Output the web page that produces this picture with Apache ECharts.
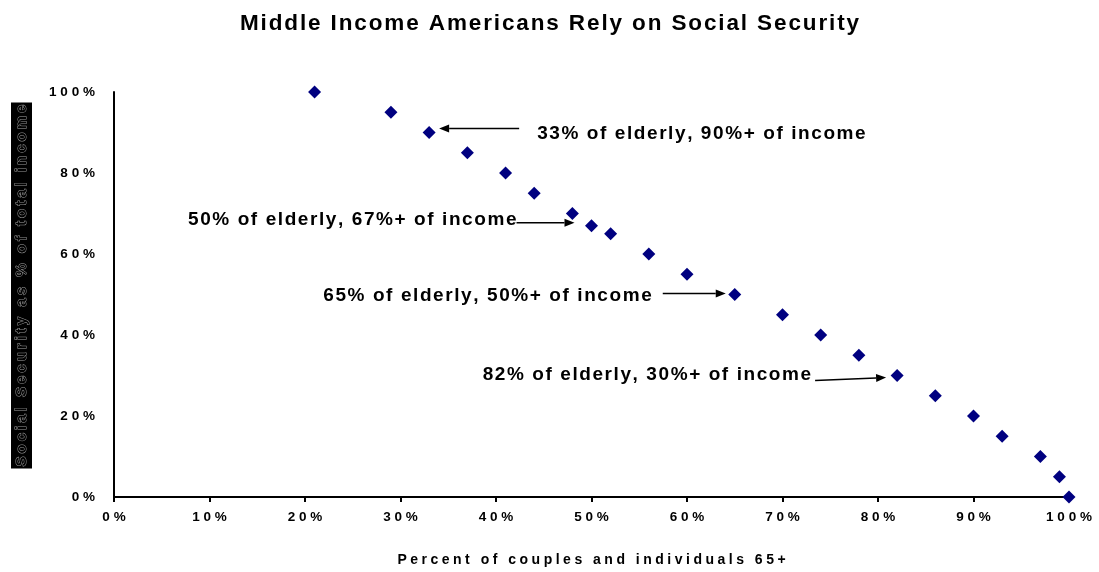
<!DOCTYPE html>
<html>
<head>
<meta charset="utf-8">
<title>Middle Income Americans Rely on Social Security</title>
<script src="https://cdn.jsdelivr.net/npm/echarts@6/dist/echarts.min.js"></script>
<style>
  html, body { margin: 0; padding: 0; background: #fff; }
  #chart { width: 1099px; height: 572px; }
</style>
</head>
<body>
<div id="chart"></div>
<script>
// Share of couples and individuals 65+ (x, %) for whom Social Security
// makes up at least the given share of total income (y, %).
const elderlyShare = [21, 29, 33, 37, 41, 44, 48, 50, 52, 56, 60, 65, 70, 74, 78, 82, 86, 90, 93, 97, 99, 100];
const incomeShare  = [100, 95, 90, 85, 80, 75, 70, 67, 65, 60, 55, 50, 45, 40, 35, 30, 25, 20, 15, 10, 5, 0];

// Callout notes and the points they refer to
const noteText = [
  '33% of elderly, 90%+ of income',
  '50% of elderly, 67%+ of income',
  '65% of elderly, 50%+ of income',
  '82% of elderly, 30%+ of income'
];
const noteX = [33, 50, 65, 82];
const noteY = [90, 67, 50, 30];

const xTicks = [0, 10, 20, 30, 40, 50, 60, 70, 80, 90, 100];
const yTicks = [0, 20, 40, 60, 80, 100];

const FONT = 'Arial, "Liberation Sans", sans-serif';
// tracking helpers: spread characters apart with narrow space characters
const track = (s, sep) => s.split('').join(sep);
const HAIR = '\u200A', THIN = '\u2009', QUARTER = '\u2005';

const chart = echarts.init(document.getElementById('chart'));

chart.setOption({
  backgroundColor: '#ffffff',
  animation: false,
  title: {
    text: track('Middle Income Americans Rely on Social Security', HAIR),
    left: 'center',
    top: 7,
    textStyle: { fontFamily: FONT, fontSize: 22.5, fontWeight: 'bold', color: '#000' }
  },
  grid: { left: 114, right: 30, top: 92, bottom: 72, containLabel: false },
  xAxis: {
    type: 'value',
    min: xTicks[0],
    max: xTicks[xTicks.length - 1],
    interval: 10,
    name: track('Percent of couples and individuals 65+', QUARTER),
    nameLocation: 'middle',
    nameGap: 56,
    nameTextStyle: { fontFamily: FONT, fontSize: 14, fontWeight: 'bold', color: '#000' },
    axisLine: { lineStyle: { color: '#000', width: 2 } },
    axisTick: { show: true, length: 5, inside: false, lineStyle: { color: '#000', width: 2 } },
    splitLine: { show: false },
    axisLabel: {
      margin: 13,
      fontFamily: FONT, fontSize: 13.5, fontWeight: 'bold', color: '#000',
      formatter: v => track(v + '%', THIN + HAIR)
    }
  },
  yAxis: {
    type: 'value',
    min: yTicks[0],
    max: yTicks[yTicks.length - 1],
    interval: 20,
    axisLine: { show: true, lineStyle: { color: '#000', width: 2 } },
    axisTick: { show: false },
    splitLine: { show: false },
    axisLabel: {
      margin: 19,
      fontFamily: FONT, fontSize: 13.5, fontWeight: 'bold', color: '#000',
      formatter: v => track(v + '%', THIN + HAIR)
    }
  },
  series: [{
    type: 'scatter',
    symbol: 'diamond',
    symbolSize: 13,
    itemStyle: { color: '#000080', opacity: 1 },
    data: elderlyShare.map((x, i) => [x, incomeShare[i]]),
    z: 5
  }]
});

// Callout layout relative to the referenced point (pixels):
// tip = arrow tip offset, tail = arrow tail offset, text = text anchor offset
const calloutLayout = [
  { tip: [10, -4], tail: [90, -4], side: 'right', text: [108, 1] },
  { tip: [-17, -3], tail: [-75, -3], side: 'left', text: [-75, -6] },
  { tip: [-9, -1], tail: [-72, -1], side: 'left', text: [-83, 1] },
  { tip: [-11, 2], tail: [-82, 5], side: 'left', text: [-86, -1] }
];

function drawCallouts() {
  const els = [];

  // vertical axis title in a dark box with outlined lettering
  els.push({
    type: 'text',
    x: 21.5,
    y: 285.5,
    rotation: Math.PI / 2,
    style: {
      text: track('Social Security as % of total income', THIN),
      fontFamily: FONT, fontSize: 15, fontWeight: 'bold',
      fill: '#000', stroke: '#9a9a9a', lineWidth: 1,
      backgroundColor: '#000', padding: [3, 2, 3, 2],
      align: 'center', verticalAlign: 'middle'
    },
    z: 10
  });

  noteText.forEach((txt, i) => {
    const p = chart.convertToPixel({ gridIndex: 0 }, [noteX[i], noteY[i]]);
    const L = calloutLayout[i];
    const tip = [p[0] + L.tip[0], p[1] + L.tip[1]];
    const tail = [p[0] + L.tail[0], p[1] + L.tail[1]];
    const dx = tip[0] - tail[0], dy = tip[1] - tail[1];
    const len = Math.hypot(dx, dy);
    const ux = dx / len, uy = dy / len;
    const headLen = 10, headW = 4;
    const base = [tip[0] - ux * headLen, tip[1] - uy * headLen];
    els.push({
      type: 'line',
      shape: { x1: tail[0], y1: tail[1], x2: base[0], y2: base[1] },
      style: { stroke: '#000', lineWidth: 1.5 },
      z: 10
    });
    els.push({
      type: 'polygon',
      shape: {
        points: [
          tip,
          [base[0] - uy * headW, base[1] + ux * headW],
          [base[0] + uy * headW, base[1] - ux * headW]
        ]
      },
      style: { fill: '#000' },
      z: 10
    });
    els.push({
      type: 'text',
      x: p[0] + L.text[0],
      y: p[1] + L.text[1],
      style: {
        text: track(txt, HAIR),
        fontFamily: FONT, fontSize: 19, fontWeight: 'bold', fill: '#000',
        align: L.side === 'right' ? 'left' : 'right',
        verticalAlign: 'middle'
      },
      z: 10
    });
  });
  chart.setOption({ graphic: { elements: els } });
}
drawCallouts();
</script>
</body>
</html>
